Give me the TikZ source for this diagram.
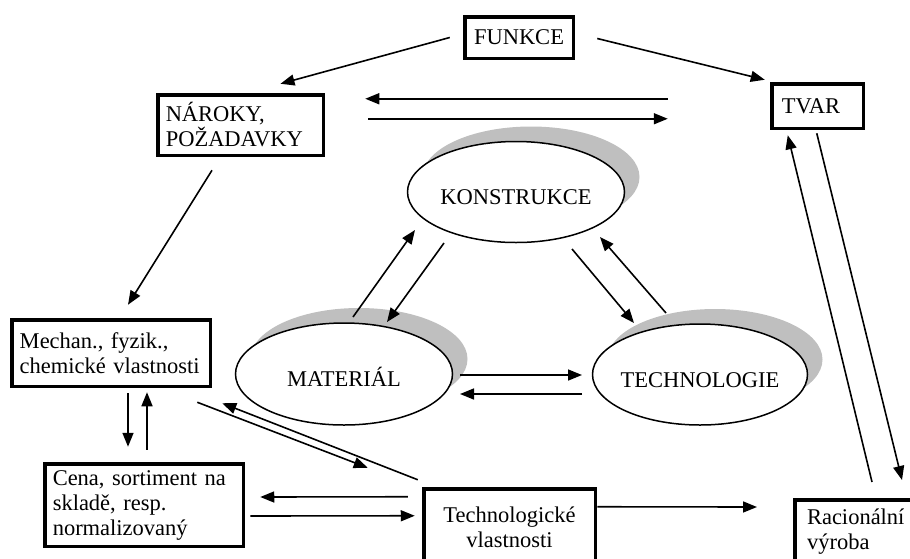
\documentclass[tikz,border=0pt]{standalone}
\usepackage{fontspec}
\setmainfont{Liberation Serif}
\usetikzlibrary{arrows.meta,calc,shapes.geometric,shadows}

\tikzset{
  box/.style={draw, line width=3.5pt, anchor=north west, align=left, inner xsep=8pt, inner ysep=0pt, outer sep=0pt},
  ell/.style={ellipse, draw, fill=white, line width=1.5pt, inner sep=0pt, outer sep=0pt,
    minimum width=217pt, minimum height=101pt, text height=25pt, text depth=0pt,
    drop shadow={shadow xshift=15pt, shadow yshift=15pt, fill=black!25, opacity=1}},
  arr/.style={-{Triangle[length=14pt,width=11pt]}, line width=1.6pt},
  ln/.style={line width=1.6pt}
}

\begin{document}
\begin{tikzpicture}[x=1pt,y=-1pt,font=\fontsize{22.5}{25}\selectfont]
\useasboundingbox (0,0) rectangle (910,558);
\clip (0,0) rectangle (910,558);

\node[box, text width=92.5pt, minimum height=41.5pt, align=center] (fun) at (464.75,16.75) {FUNKCE};
\node[box, text width=149.5pt, minimum height=60.5pt] (nar) at (157.75,94.75) {NÁROKY,\\POŽADAVKY};
\node[box, inner xsep=10pt, text width=71.5pt, minimum height=44.5pt] (tvar) at (771.75,83.75) {TVAR};
\node[box, text width=182.5pt, minimum height=66.5pt] (mech) at (11.75,319.75) {Mechan., fyzik.,\\chemické vlastnosti};
\node[box, text width=182.5pt, minimum height=82.5pt] (cena) at (44.75,463.75) {Cena, sortiment na\\skladě, resp.\\normalizovaný};
\node[box, text width=155.5pt, minimum height=76.5pt, align=center] (tech) at (423.75,488.75) {Technologické\\vlastnosti};
\node[box, inner xsep=12pt, text width=120pt, minimum height=64pt] (rac) at (795,500) {Racionální\\výroba};

\node[ell] (kon) at (516,192) {\makebox[0pt]{KONSTRUKCE}};
\node[ell, minimum height=102pt] (mat) at (344,374) {\makebox[0pt]{MATERIÁL}};
\node[ell, minimum width=215pt] (tec) at (700,374.5) {\makebox[0pt]{TECHNOLOGIE}};

\draw[arr] ($(fun.west)+(-15,0)$) -- ($(nar.north)+(40,-11)$);
\draw[arr] ($(fun.east)+(24,1)$) -- ($(tvar.north west)+(-7,-4)$);
\draw[arr] ($(tvar.north west)+(-104,15)$) -- ($(nar.north east)+(42,4)$);
\draw[arr] ($(nar.north east)+(45,24)$) -- ($(tvar.north west)+(-104,35)$);
\draw[arr] ($(nar.south)+(-28.5,15)$) -- ($(mech.north)+(17,-15)$);

\draw[arr] ($(mech.south)+(17,7)$) -- ($(cena.north)+(-16,-17)$);
\draw[arr] ($(cena.north)+(3,-14)$) -- ($(mech.south)+(36,6)$);
\draw[arr] ($(mech.south east)+(-13,16)$) -- ($(tech.north west)+(-56,-21)$);
\draw[arr] ($(tech.north west)+(-6,-9)$) -- ($(mech.south east)+(12,17)$);
\draw[arr] ($(tech.north west)+(-16,8)$) -- ($(cena.east)+(17,-8)$);
\draw[arr] ($(cena.east)+(7,11)$) -- ($(tech.north west)+(-9,27)$);
\draw[arr] ($(tech.north east)+(2,18)$) -- ($(rac.north west)+(-38,7)$);
\draw[arr] ($(rac.north west)+(77,-18)$) -- ($(tvar.south west)+(16,7)$);
\draw[arr] ($(tvar.south west)+(45,5)$) -- ($(rac.north west)+(107,-20)$);

\draw[arr] ($(mat.north)+(9,-6)$) -- ($(kon.south)+(-101,-12.5)$);
\draw[arr] ($(kon.south)+(-72,0.5)$) -- ($(mat.north)+(43,-1)$);
\draw[arr] ($(kon.south)+(56,6.5)$) -- ($(tec.north)+(-66,-1)$);
\draw[arr] ($(tec.north)+(-34,-11)$) -- ($(kon.south)+(84,-5.5)$);
\draw[arr] ($(mat.east)+(7.5,1)$) -- ($(tec.west)+(-10.5,0.5)$);
\draw[arr] ($(tec.west)+(-10.5,19.5)$) -- ($(mat.east)+(7.5,20)$);
\end{tikzpicture}
\end{document}
